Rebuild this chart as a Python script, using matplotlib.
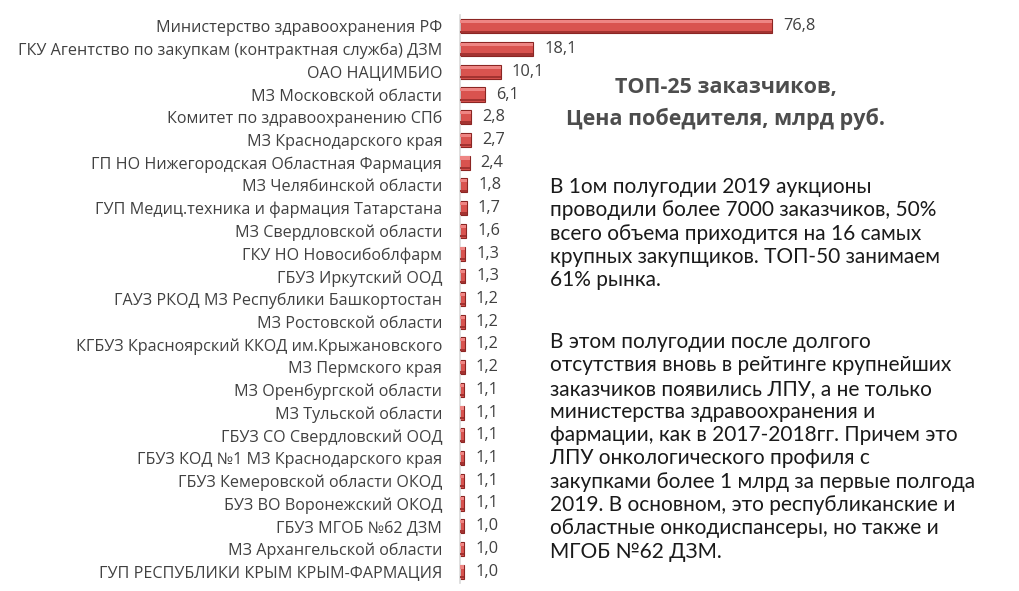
import matplotlib
matplotlib.use("Agg")
import matplotlib.pyplot as plt
from matplotlib.patches import Rectangle

categories = [
    "Министерство здравоохранения РФ",
    "ГКУ Агентство по закупкам (контрактная служба) ДЗМ",
    "ОАО НАЦИМБИО",
    "МЗ Московской области",
    "Комитет по здравоохранению СПб",
    "МЗ Краснодарского края",
    "ГП НО Нижегородская Областная Фармация",
    "МЗ Челябинской области",
    "ГУП Медиц.техника и фармация Татарстана",
    "МЗ Свердловской области",
    "ГКУ НО Новосибоблфарм",
    "ГБУЗ Иркутский ООД",
    "ГАУЗ РКОД МЗ Республики Башкортостан",
    "МЗ Ростовской области",
    "КГБУЗ Красноярский ККОД им.Крыжановского",
    "МЗ Пермского края",
    "МЗ Оренбургской области",
    "МЗ Тульской области",
    "ГБУЗ СО Свердловский ООД",
    "ГБУЗ КОД №1 МЗ Краснодарского края",
    "ГБУЗ Кемеровской области ОКОД",
    "БУЗ ВО Воронежский ОКОД",
    "ГБУЗ МГОБ №62 ДЗМ",
    "МЗ Архангельской области",
    "ГУП РЕСПУБЛИКИ КРЫМ КРЫМ-ФАРМАЦИЯ",
]
values = [76.8, 18.1, 10.1, 6.1, 2.8, 2.7, 2.4, 1.8, 1.7, 1.6, 1.3, 1.3, 1.2,
          1.2, 1.2, 1.2, 1.1, 1.1, 1.1, 1.1, 1.1, 1.1, 1.0, 1.0, 1.0]

title_lines = ["ТОП-25 заказчиков,", "Цена победителя, млрд руб."]
para1 = ["В 1ом полугодии 2019 аукционы",
         "проводили более 7000 заказчиков, 50%",
         "всего объема приходится на 16 самых",
         "крупных закупщиков. ТОП-50 занимаем",
         "61% рынка."]
para2 = ["В этом полугодии после долгого",
         "отсутствия вновь в рейтинге крупнейших",
         "заказчиков появились ЛПУ, а не только",
         "министерства здравоохранения и",
         "фармации, как в 2017-2018гг. Причем это",
         "ЛПУ онкологического профиля с",
         "закупками более 1 млрд за первые полгода",
         "2019. В основном, это республиканские и",
         "областные онкодиспансеры, но также и",
         "МГОБ №62 ДЗМ."]

W, H = 1020, 591
fig = plt.figure(figsize=(W / 100, H / 100), dpi=100)
fig.patch.set_facecolor("white")

ax_left, ax_right = 460, 860
ax_top, ax_bot = 15, 583
ax = fig.add_axes([ax_left / W, 1 - ax_bot / H, (ax_right - ax_left) / W, (ax_bot - ax_top) / H])
ax.set_xlim(0, (ax_right - ax_left) / 4.06)
ax.set_ylim(len(values) - 0.5, -0.5)
ypos = list(range(len(values)))

bars = ax.barh(ypos, values, height=0.62, color="#D9534F", edgecolor="#8B2523", linewidth=0.8, zorder=2)
# bevel highlight / shadow
for b in bars:
    x0, y0, w, h = b.get_x(), b.get_y(), b.get_width(), b.get_height()
    ax.add_patch(Rectangle((x0, y0 + h * 0.06), w, h * 0.22, facecolor="#EE8583", edgecolor="none", zorder=3))
    ax.add_patch(Rectangle((x0, y0 + h * 0.80), w, h * 0.16, facecolor="#A33331", edgecolor="none", zorder=3))

for y, v in zip(ypos, values):
    ax.text(v + 2.7, y, f"{v:.1f}".replace(".", ","), va="center", ha="left",
            fontsize=11.8, color="#404040", family="Open Sans")

ax.set_yticks(ypos)
ax.set_yticklabels(categories, fontsize=11.6, color="#404040", family="Open Sans")
ax.tick_params(axis="y", length=0, pad=12.8)
ax.set_xticks([])
for s in ["top", "right", "bottom"]:
    ax.spines[s].set_visible(False)
ax.spines["left"].set_color("#D9D9D9")
ax.spines["left"].set_linewidth(1.2)
ax.set_facecolor("none")

# Title
for i, t in enumerate(title_lines):
    fig.text(726 / W, 1 - (88 + 31 * i) / H, t, ha="center", va="center",
             fontsize=15.5, fontweight="bold", color="#4D4D4D", family="Open Sans")

# Paragraphs
lh = 23.3
for i, t in enumerate(para1):
    fig.text(550 / W, 1 - (187 + lh * i) / H, t, ha="left", va="center",
             fontsize=15.0, color="#1A1A1A", family="Lato")
for i, t in enumerate(para2):
    fig.text(550 / W, 1 - (342 + lh * i) / H, t, ha="left", va="center",
             fontsize=15.0, color="#1A1A1A", family="Lato")

fig.savefig("out.png", dpi=100)
